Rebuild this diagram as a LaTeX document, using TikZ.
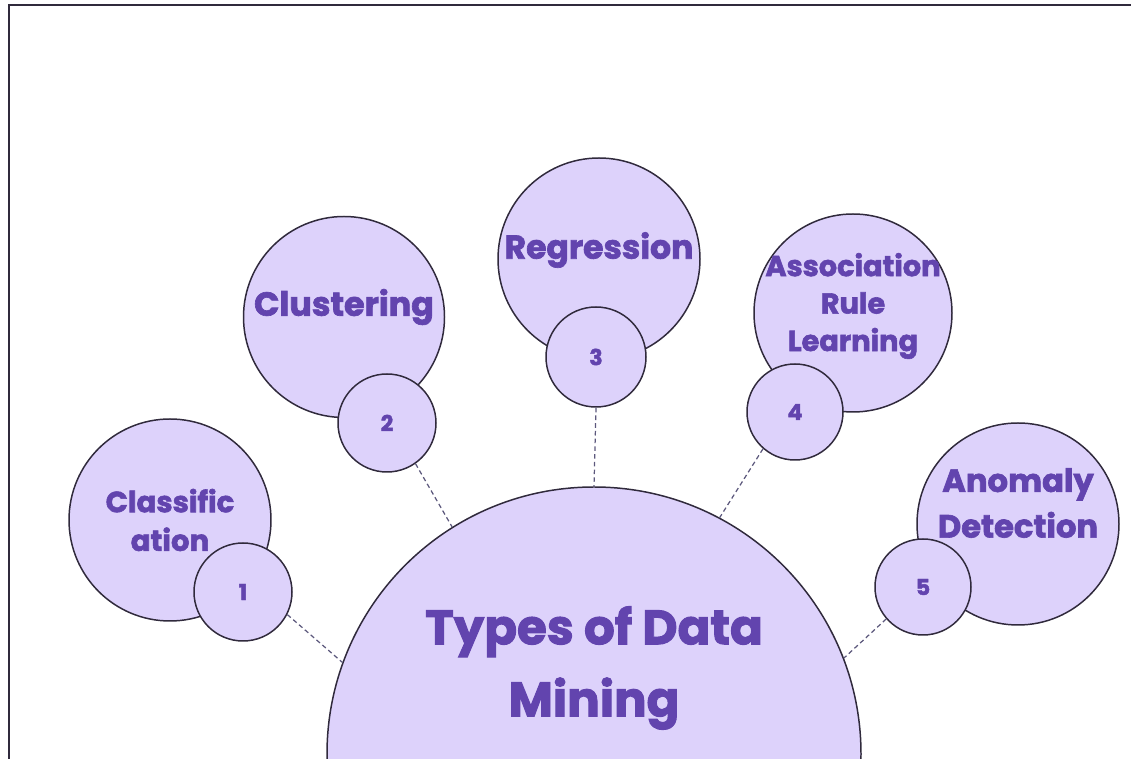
\documentclass[tikz,border=0pt]{standalone}
\usepackage{fontspec}
\setmainfont{Poppins}[BoldFeatures={FakeBold=2}]
\usetikzlibrary{calc}

\definecolor{lavender}{RGB}{221,210,251}
\definecolor{ink}{RGB}{98,68,174}
\definecolor{rim}{RGB}{48,42,60}
\definecolor{dashcol}{RGB}{92,88,124}

\tikzset{
	bubble/.style={circle, draw=rim, line width=0.85pt, fill=lavender, inner sep=0pt},
	badge/.style={bubble, font=\fontsize{12.5}{14}\selectfont\bfseries, text=ink},
	lbl/.style={text=ink, align=center, inner sep=0pt},
	link/.style={draw=dashcol, line width=0.7pt, dash pattern=on 2.6pt off 1.8pt}
}

\begin{document}
\begin{tikzpicture}
			%%%%% START %%%%%
			
			\useasboundingbox (0, 0) rectangle (22.62, 15.18);
			\draw[line width=1.1pt, color=rim] (0.18, 0) -- (0.18, 15.08) -- (22.62, 15.08);
			
			% topics
			\node[bubble, minimum size=4.04cm] (cls) at (3.40, 4.78) {};
			\node[bubble, minimum size=4.02cm] (clu) at (6.88, 8.84) {};
			\node[bubble, minimum size=4.04cm] (reg) at (11.98, 10.00) {};
			\node[bubble, minimum size=3.96cm] (asc) at (17.06, 8.92) {};
			\node[bubble, minimum size=4.04cm] (ano) at (20.36, 4.70) {};
			
			\node[lbl, font=\fontsize{16.6}{22}\selectfont\bfseries] at (cls.center) {Classific\\ation};
			\node[lbl, font=\fontsize{19}{20}\selectfont\bfseries] at ([yshift=0.2cm]clu.center) {Clustering};
			\node[lbl, font=\fontsize{18.8}{20}\selectfont\bfseries] at ([yshift=0.18cm]reg.center) {Regression};
			\node[lbl, font=\fontsize{16.4}{21.3}\selectfont\bfseries] at ([yshift=0.14cm]asc.center) {Association\\Rule\\Learning};
			\node[lbl, font=\fontsize{18.3}{26}\selectfont\bfseries] at ([yshift=0.42cm]ano.center) {Anomaly\\Detection};
			
			% numbers
			\node[badge, minimum size=1.96cm] (n1) at (4.86, 3.34) {1};
			\node[badge, minimum size=1.96cm] (n2) at (7.74, 6.72) {2};
			\node[badge, minimum size=2.00cm] (n3) at (11.92, 8.04) {3};
			\node[badge, minimum size=1.92cm] (n4) at (15.90, 6.94) {4};
			\node[badge, minimum size=1.92cm] (n5) at (18.46, 3.44) {5};
			
			% centre
			\node[bubble, minimum size=10.68cm] (main) at (11.88, 0.10) {};
			\node[lbl, font=\fontsize{27.5}{41}\selectfont\bfseries] at (11.88, 1.82) {Types of Data\\Mining};
			
			\draw[link] (n1.-27) -- (main.160);
			\draw[link] (n2.-55) -- (main.122);
			\draw[link] (n3.south) -- (main.north);
			\draw[link] (n4.-131) -- (main.62);
			\draw[link] (n5.-139) -- (main.21);
			
			%%%%% END %%%%%
\end{tikzpicture}
\end{document}
